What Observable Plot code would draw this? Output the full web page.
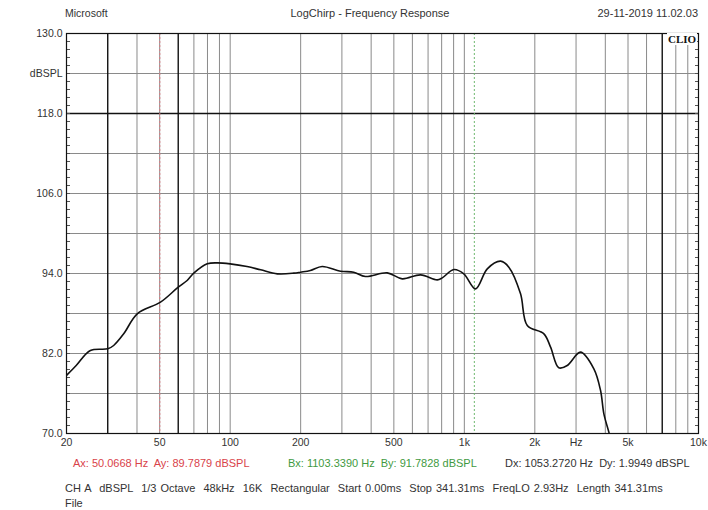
<!DOCTYPE html>
<html><head><meta charset="utf-8">
<script src="https://cdn.jsdelivr.net/npm/d3@7"></script>
<script src="https://cdn.jsdelivr.net/npm/@observablehq/plot@0.6"></script>
<style>
body{margin:0;background:#fff;font-family:"Liberation Sans",Arial,sans-serif;}
#wrap{position:relative;width:708px;height:510px;overflow:hidden;}
.t{position:absolute;font-size:11px;color:#333;white-space:pre;line-height:12px;}
#chart{position:absolute;left:0;top:0;}
</style></head>
<body><div id="wrap">
<div id="chart"></div>
<div class="t" style="left:65px;top:7px;font-size:10.5px;">Microsoft</div>
<div class="t" style="left:0;width:740px;text-align:center;top:7px;">LogChirp - Frequency Response</div>
<div class="t" style="right:10px;top:7px;">29-11-2019 11.02.03</div>
<div class="t" style="left:73px;top:457px;color:#d9434a;">Ax: 50.0668 Hz  Ay: 89.7879 dBSPL</div>
<div class="t" style="left:288px;top:457px;color:#3f9a3f;">Bx: 1103.3390 Hz  By: 91.7828 dBSPL</div>
<div class="t" style="left:505px;top:457px;">Dx: 1053.2720 Hz  Dy: 1.9949 dBSPL</div>
<div class="t" style="left:65px;top:482px;word-spacing:1px;">CH A  dBSPL  1/3 Octave  48kHz  16K  Rectangular  Start 0.00ms  Stop 341.31ms  FreqLO 2.93Hz  Length 341.31ms</div>
<div class="t" style="left:65px;top:498px;line-height:11px;">File</div>
<div class="t" style="left:667px;top:33px;font-family:'Liberation Serif',serif;font-weight:bold;font-size:11px;color:#111;background:#fff;padding:0 1px;">CLIO</div>
</div>
<script>
const freqs = [20,22,25.3,30,31.8,35.1,40.1,50.4,60,65.5,69.9,79.8,88,100,118,135,159,187,200,220,247,296,337,378,469,543,650,766,805,902,995,1116,1253,1428,1549,1738,1857,2187,2335,2533,2751,3134,3574,3817,3944,4142,4250];
const levels = [78.7,80.2,82.45,82.7,83.2,84.95,87.95,89.7,91.95,92.95,94.05,95.45,95.6,95.45,95.05,94.55,93.95,94.05,94.2,94.45,95.05,94.35,94.2,93.55,94.1,93.2,93.8,93.05,93.35,94.6,93.95,91.7,94.7,95.85,94.95,90.95,86.2,84.95,82.95,79.85,80.2,82.2,79.7,76.45,72.95,70.2,68.5];

const gridFreqs = [30,40,50,60,70,80,90,100,200,300,400,500,600,700,800,900,1000,2000,3000,4000,5000,6000,7000,8000,9000];
const darkFreqs = [30,60,7000];
const gridLevels = [124,118,112,106,100,94,88,82,76];
const darkLevels = [118];
const xTickValues = [20,50,100,200,500,1000,2000,3000,5000,10000];
const xTickLabels = ["20","50","100","200","500","1k","2k","Hz","5k","10k"];
const yTickValues = [130,124,118,106,94,82,70];
const yTickLabels = ["130.0","dBSPL","118.0","106.0","94.0","82.0","70.0"];
const cursorA = [50.0668];
const cursorB = [1103.339];
const minorLevels = d3.range(0,51).map(i => 70 + i*1.2);

const data = freqs.map((f,i) => ({f, db: levels[i]}));
const xTicks = xTickValues.map((v,i) => ({v, label: xTickLabels[i]}));
const labelFor = (vals, labs) => d => {
  const i = vals.findIndex(v => Math.abs(v - d) <= Math.abs(v) * 1e-4);
  return i >= 0 ? labs[i] : "";
};

const chart = Plot.plot({
  width: 708, height: 456,
  marginTop: 33, marginBottom: 23, marginLeft: 66, marginRight: 10,
  style: {fontFamily: "Liberation Sans, Arial, sans-serif", fontSize: "10.5px", color: "#333", background: "transparent", overflow: "visible"},
  x: {type: "log", domain: [20, 10000], axis: null},
  y: {domain: [70, 130]},
  marks: [
    Plot.ruleX(gridFreqs.filter(f => !darkFreqs.includes(f)), {stroke: "#8a8a8a", strokeWidth: 1}),
    Plot.ruleY(gridLevels.filter(v => !darkLevels.includes(v)), {stroke: "#8a8a8a", strokeWidth: 1}),
    Plot.ruleX(darkFreqs, {stroke: "#111", strokeWidth: 1.4}),
    Plot.ruleY(darkLevels, {stroke: "#111", strokeWidth: 1.4}),
    Plot.ruleX(cursorA, {stroke: "#e07a80", strokeDasharray: "2,2", strokeWidth: 1}),
    Plot.ruleX(cursorB, {stroke: "#6fb86f", strokeDasharray: "2,2", strokeWidth: 1}),
    Plot.axisY({anchor: "left", ticks: minorLevels, tickSize: 4, dx: 4, tickFormat: () => "", label: null, stroke: "#555"}),
    Plot.axisY({anchor: "right", ticks: minorLevels, tickSize: 4, dx: -4, tickFormat: () => "", label: null, stroke: "#555"}),
    Plot.axisY({anchor: "left", ticks: yTickValues, tickSize: 0, tickPadding: 4, tickFormat: labelFor(yTickValues, yTickLabels), label: null, fill: "#333"}),
    Plot.text(xTicks, {x: "v", text: "label", frameAnchor: "bottom", lineAnchor: "top", dy: 5, fill: "#333", fontSize: 10.5}),
    Plot.line(data, {x: "f", y: "db", stroke: "#111", strokeWidth: 1.6, curve: "catmull-rom", clip: true}),
    Plot.frame({stroke: "#111", strokeWidth: 1.2})
  ]
});
document.getElementById("chart").appendChild(chart);
</script>
</body></html>
